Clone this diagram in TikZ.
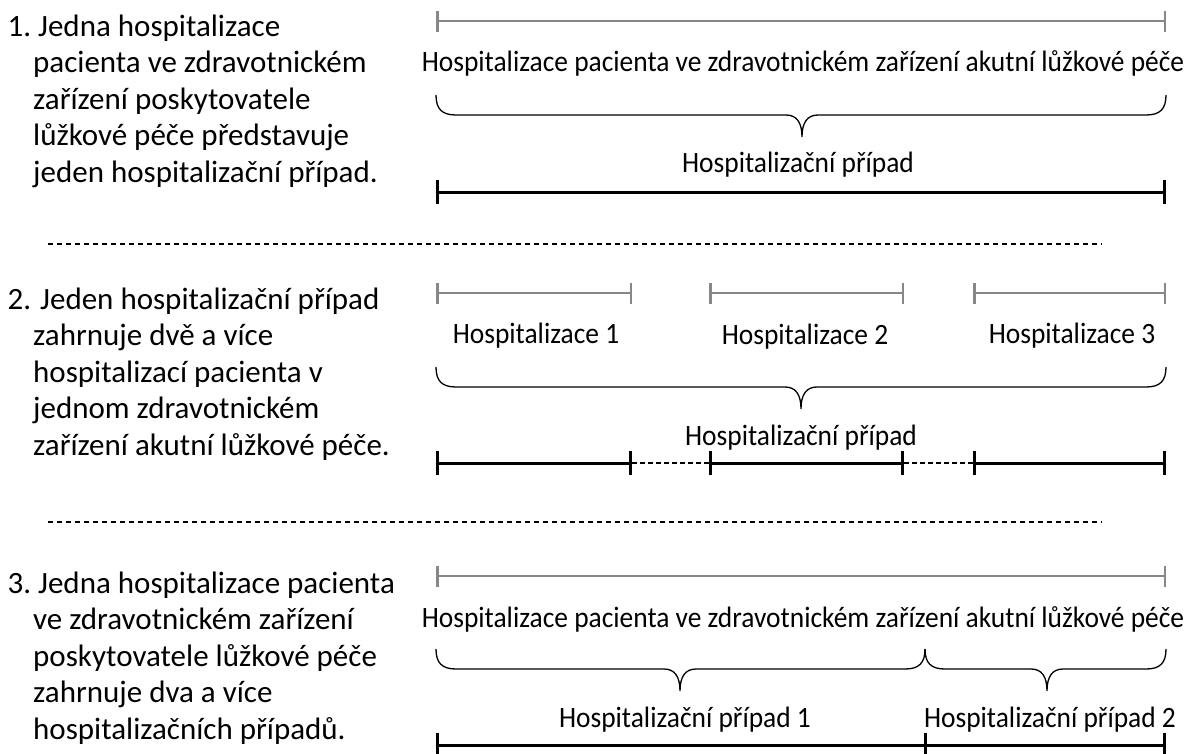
\documentclass[tikz,border=0pt]{standalone}
\usepackage{fontspec}
\setmainfont{Carlito}
\usepackage{tikz}
\usetikzlibrary{arrows.meta}
\definecolor{bargrey}{RGB}{135,135,135}

% curly brace: left x, right x, top y, tip x
\newcommand{\spanbrace}[4]{%
  \draw[brace line] (#1,#3) .. controls (#1,#3+14) and (#1+6,#3+20) .. (#1+20,#3+20)
    -- (#4-16,#3+20) .. controls (#4-5,#3+20) and (#4,#3+28) .. (#4,#3+42)
    .. controls (#4,#3+28) and (#4+5,#3+20) .. (#4+16,#3+20)
    -- (#2-20,#3+20) .. controls (#2-6,#3+20) and (#2,#3+14) .. (#2,#3);}

\begin{document}
\begin{tikzpicture}[x=1pt, y=-1pt,
  grey bar/.style={draw=bargrey, line width=2.5pt, {Bar[width=21pt]}-{Bar[width=21pt]}},
  case bar/.style={draw=black, line width=3pt, {Bar[width=24pt]}-{Bar[width=24pt]}},
  gap bar/.style={draw=black, line width=2pt, dash pattern=on 5pt off 3pt},
  sep line/.style={draw=black, line width=1.1pt, dash pattern=on 5pt off 4pt},
  brace line/.style={draw=black, line width=1.3pt},
  left text/.style={anchor=base west, inner sep=0pt, align=left,
    font=\fontsize{31}{36.5}\selectfont},
  span label/.style={anchor=base, inner sep=0pt, xscale=0.93,
    font=\fontsize{29.5}{30}\selectfont}]
  \useasboundingbox (0,0) rectangle (1189,753);

  % Section 1 (node base = last line)
  \node[left text] (text1) at (33,182)
    {\makebox[0pt][r]{1.\hspace{2pt}}\hspace*{5pt}Jedna hospitalizace\\
     pacienta ve zdravotnickém\\ zařízení poskytovatele\\
     lůžkové péče představuje\\ jeden hospitalizační případ.};
  \draw[grey bar] (436,21) -- (1166,21);
  \node[span label] (stay1) at (803,71)
    {Hospitalizace pacienta ve zdravotnickém zařízení akutní lůžkové péče};
  \spanbrace{436}{1166}{95}{802}
  \node[span label] (case1) at (798,172) {Hospitalizační případ};
  \draw[case bar] (436,192) -- (1166,192);

  \draw[sep line] (48,244) -- (1102,244);

  % Section 2
  \node[left text] (text2) at (33,455)
    {\makebox[0pt][r]{2.\hspace{2pt}}\hspace*{7pt}Jeden hospitalizační případ\\
     zahrnuje dvě a více\\ hospitalizací pacienta v\\
     jednom zdravotnickém\\ zařízení akutní lůžkové péče.};
  \draw[grey bar] (436,293) -- (632,293);
  \draw[grey bar] (709,293) -- (904,293);
  \draw[grey bar] (973,293) -- (1166,293);
  \node[span label] (stayA) at (536,343) {Hospitalizace 1};
  \node[span label] (stayB) at (805,344) {Hospitalizace 2};
  \node[span label] (stayC) at (1072,343) {Hospitalizace 3};
  \spanbrace{436}{1166}{367}{801}
  \node[span label] (case2) at (801,445) {Hospitalizační případ};
  \draw[case bar] (436,463) -- (632,463);
  \draw[gap bar] (632,463) -- (709,463);
  \draw[case bar] (709,463) -- (904,463);
  \draw[gap bar] (904,463) -- (973,463);
  \draw[case bar] (973,463) -- (1166,463);

  \draw[sep line] (48,522) -- (1102,522);

  % Section 3
  \node[left text] (text3) at (33,739)
    {\makebox[0pt][r]{3.\hspace{2pt}}\hspace*{5pt}Jedna hospitalizace pacienta\\
     ve zdravotnickém zařízení\\ poskytovatele lůžkové péče\\
     zahrnuje dva a více\\ hospitalizačních případů.};
  \draw[grey bar] (436,576) -- (1166,576);
  \node[span label] (stay3) at (803,627)
    {Hospitalizace pacienta ve zdravotnickém zařízení akutní lůžkové péče};
  \spanbrace{436}{925}{649}{680}
  \spanbrace{925}{1166}{649}{1047}
  \node[span label] (caseA) at (685,727) {Hospitalizační případ 1};
  \node[span label] (caseB) at (1050,727) {Hospitalizační případ 2};
  \draw[case bar] (436,745) -- (1166,745);
  \draw[line width=3pt] (925,733) -- (925,757);
\end{tikzpicture}
\end{document}
